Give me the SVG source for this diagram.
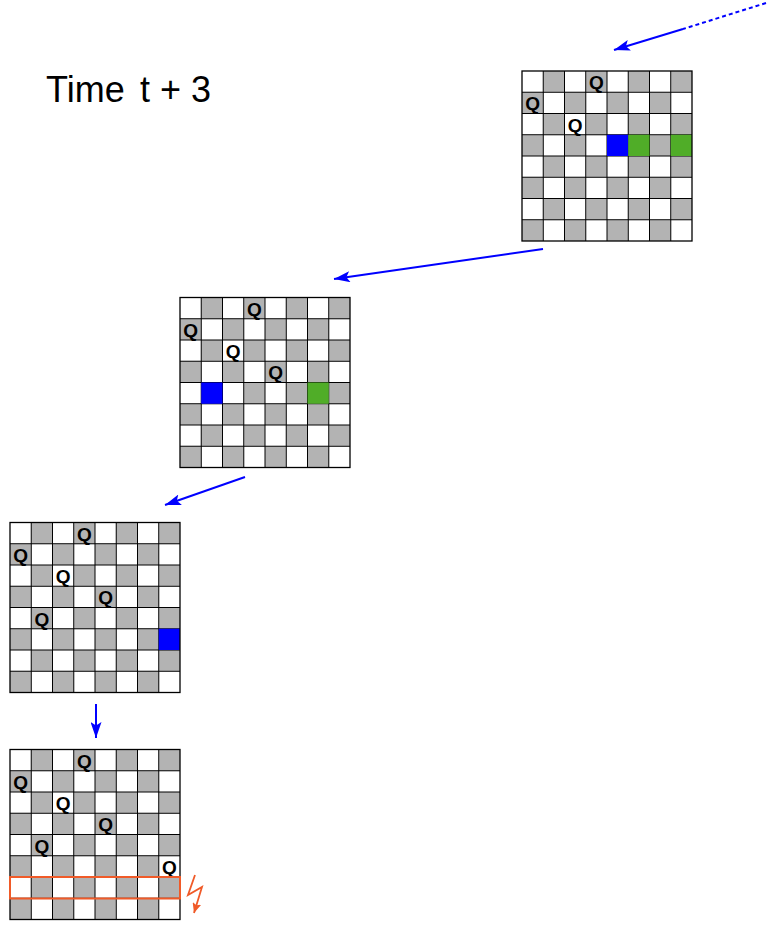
<svg xmlns="http://www.w3.org/2000/svg" xmlns:xlink="http://www.w3.org/1999/xlink" width="767" height="926" viewBox="0 0 767 926">
<style>
.q{font-family:"Liberation Sans",Arial,sans-serif;font-weight:bold;font-size:19px;text-anchor:middle;fill:#000}
.title{font-family:"Liberation Sans",Arial,sans-serif;font-size:36px;fill:#000}
.blue{fill:#0000ff}
.green{fill:#50ad28}
.arrow{stroke:#0000ff;stroke-width:2;fill:none}
</style>
<defs>
<pattern id="chk" patternUnits="userSpaceOnUse" x="0" y="0" width="42.5" height="42.5">
<rect width="42.5" height="42.5" fill="#fff"/>
<rect x="21.25" y="0" width="21.25" height="21.25" fill="#b3b3b3"/>
<rect x="0" y="21.25" width="21.25" height="21.25" fill="#b3b3b3"/>
</pattern>
<g id="checker">
<rect x="0" y="0" width="170" height="170" fill="url(#chk)"/>
<path d="M0 21.25H170M0 42.5H170M0 63.75H170M0 85H170M0 106.25H170M0 127.5H170M0 148.75H170M21.25 0V170M42.5 0V170M63.75 0V170M85 0V170M106.25 0V170M127.5 0V170M148.75 0V170" stroke="#000" stroke-width="1" fill="none"/>
</g>
<marker id="ah" markerUnits="userSpaceOnUse" markerWidth="17" markerHeight="11" refX="16" refY="5.5" orient="auto">
<path d="M0 0L16 5.5L0 11L3.5 5.5Z" fill="#0000ff"/>
</marker>
<marker id="ahO" markerUnits="userSpaceOnUse" markerWidth="11" markerHeight="9" refX="10" refY="4.5" orient="auto">
<path d="M0 0L10 4.5L0 9L2 4.5Z" fill="#f05a28"/>
</marker>
</defs>
<rect width="767" height="926" fill="#fff"/>
<g id="title">
<text class="title" x="46" y="102">Time</text>
<text class="title" x="140" y="102">t + 3</text>
</g>
<g id="board1" transform="translate(522,71)">
<use xlink:href="#checker"/>
<rect class="blue" x="85" y="63.75" width="21.25" height="21.25"/>
<rect class="green" x="106.25" y="63.75" width="21.25" height="21.25"/>
<rect class="green" x="148.75" y="63.75" width="21.25" height="21.25"/>
<rect x="0" y="0" width="170" height="170" fill="none" stroke="#000" stroke-width="1.3"/>
<text class="q" x="74.4" y="18">Q</text>
<text class="q" x="10.6" y="39.2">Q</text>
<text class="q" x="53.1" y="60.5">Q</text>
</g>
<g id="board2" transform="translate(180,297.5)">
<use xlink:href="#checker"/>
<rect class="blue" x="21.25" y="85" width="21.25" height="21.25"/>
<rect class="green" x="127.5" y="85" width="21.25" height="21.25"/>
<rect x="0" y="0" width="170" height="170" fill="none" stroke="#000" stroke-width="1.3"/>
<text class="q" x="74.4" y="18">Q</text>
<text class="q" x="10.6" y="39.2">Q</text>
<text class="q" x="53.1" y="60.5">Q</text>
<text class="q" x="95.6" y="81.7">Q</text>
</g>
<g id="board3" transform="translate(10,522.5)">
<use xlink:href="#checker"/>
<rect class="blue" x="148.75" y="106.25" width="21.25" height="21.25"/>
<rect x="0" y="0" width="170" height="170" fill="none" stroke="#000" stroke-width="1.3"/>
<text class="q" x="74.4" y="18">Q</text>
<text class="q" x="10.6" y="39.2">Q</text>
<text class="q" x="53.1" y="60.5">Q</text>
<text class="q" x="95.6" y="81.7">Q</text>
<text class="q" x="31.9" y="103">Q</text>
</g>
<g id="board4" transform="translate(10,749.5)">
<use xlink:href="#checker"/>
<rect x="0" y="0" width="170" height="170" fill="none" stroke="#000" stroke-width="1.3"/>
<text class="q" x="74.4" y="18">Q</text>
<text class="q" x="10.6" y="39.2">Q</text>
<text class="q" x="53.1" y="60.5">Q</text>
<text class="q" x="95.6" y="81.7">Q</text>
<text class="q" x="31.9" y="103">Q</text>
<text class="q" x="159.4" y="124.2">Q</text>
<rect x="0" y="127.5" width="170" height="21.5" fill="none" stroke="#f05a28" stroke-width="2"/>
</g>
<g id="connectors">
<line class="arrow" x1="766" y1="3" x2="683" y2="29" stroke-dasharray="4,3"/>
<line class="arrow" x1="683" y1="29" x2="614" y2="50" marker-end="url(#ah)"/>
<line class="arrow" x1="543" y1="249" x2="334" y2="279" marker-end="url(#ah)"/>
<line class="arrow" x1="245" y1="477" x2="165" y2="505" marker-end="url(#ah)"/>
<line class="arrow" x1="96" y1="704" x2="96" y2="738" marker-end="url(#ah)"/>
<polyline points="195,875 188,895 202,887 194,913" fill="none" stroke="#f05a28" stroke-width="1.8" marker-end="url(#ahO)"/>
</g>
</svg>
